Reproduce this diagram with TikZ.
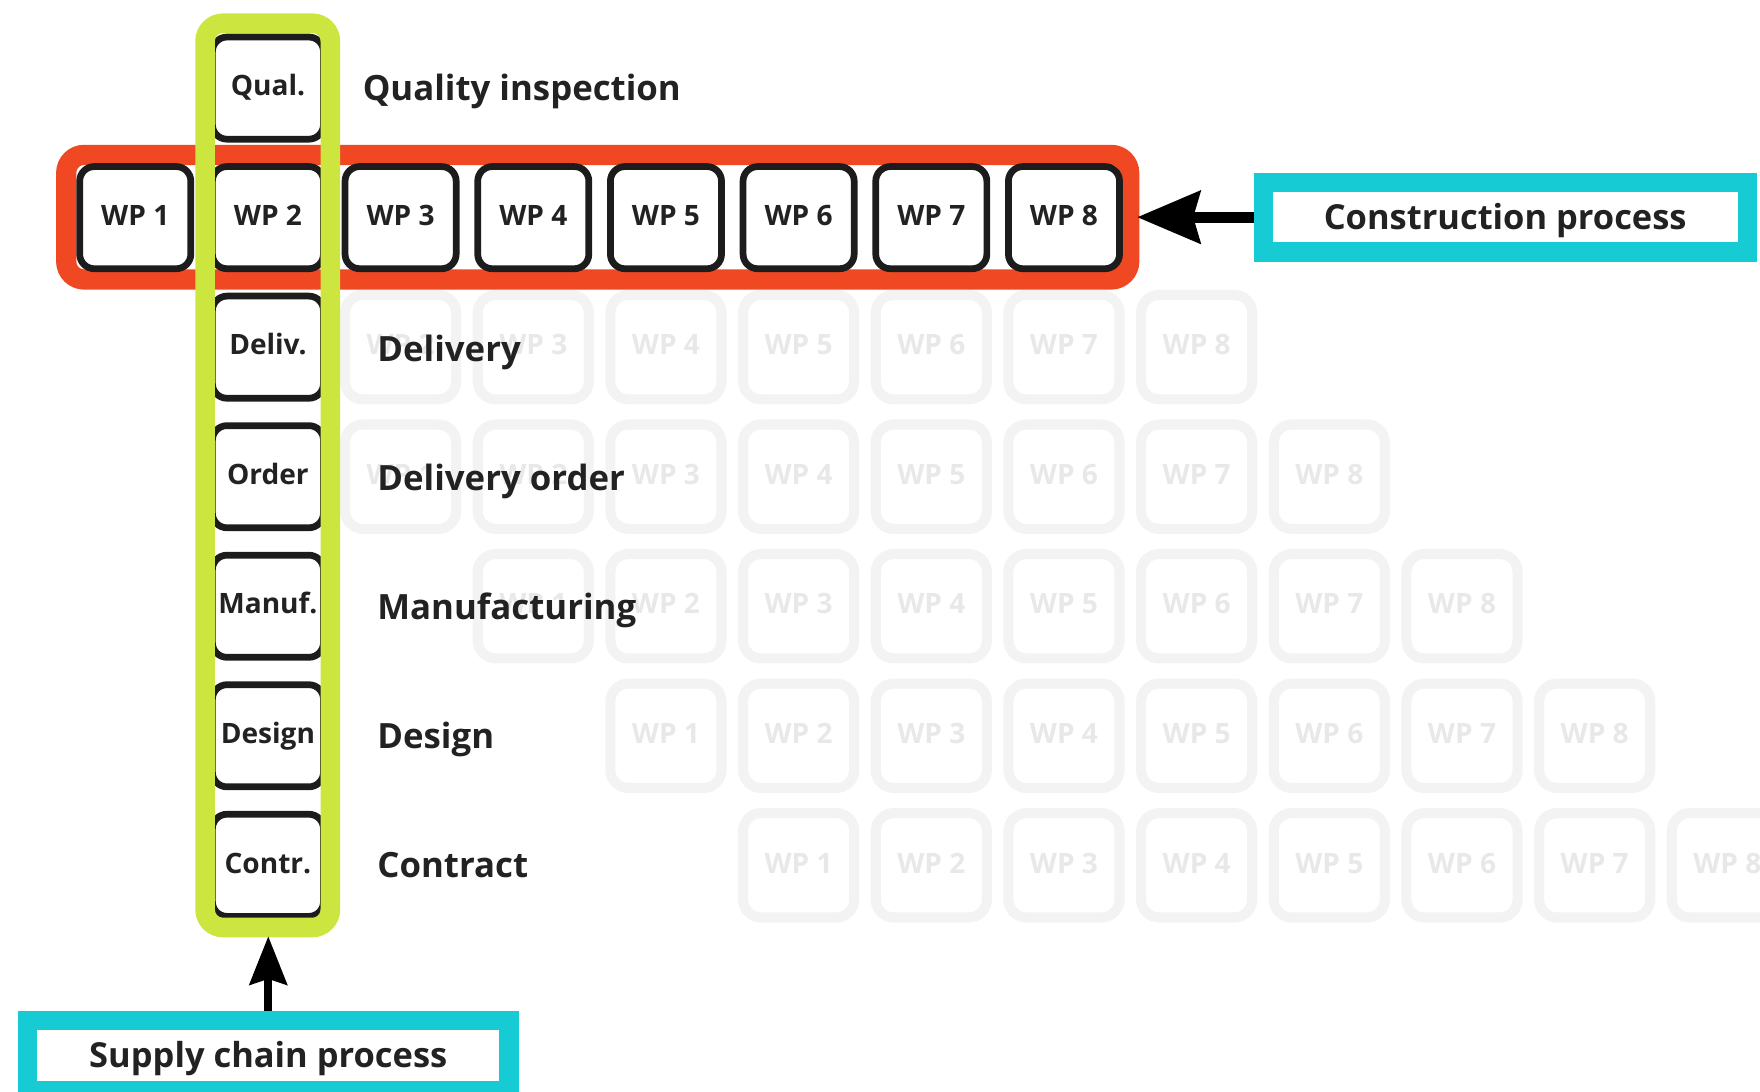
\documentclass[tikz,border=0pt]{standalone}
\usepackage{fontspec}
\setmainfont{Open Sans}
\usetikzlibrary{arrows.meta}
\definecolor{redband}{RGB}{239,72,35}
\definecolor{limeband}{RGB}{205,230,63}
\definecolor{cyanband}{RGB}{22,203,211}
\definecolor{boxblack}{RGB}{28,28,28}
\definecolor{fadeline}{RGB}{243,243,243}
\definecolor{fadetext}{RGB}{232,232,232}
\definecolor{txt}{RGB}{34,34,34}
\tikzset{
  wpbox/.style={draw=boxblack, line width=6pt, rounded corners=13pt, fill=white,
    minimum width=99pt, minimum height=91pt, inner sep=0pt, text=txt,
    font=\bfseries\fontsize{25}{25}\selectfont, text height=17.8pt, text depth=4pt},
  fadebox/.style={draw=fadeline, line width=9pt, rounded corners=16pt,
    minimum width=99pt, minimum height=93pt, inner sep=0pt, text=fadetext,
    font=\bfseries\fontsize{25}{25}\selectfont, text height=17.8pt, text depth=4pt},
  rowlabel/.style={anchor=west, inner sep=0pt, text=txt,
    font=\bfseries\fontsize{31}{31}\selectfont, text height=22.1pt, text depth=0pt},
  procbox/.style={draw=cyanband, line width=17pt, fill=white, inner sep=0pt,
    minimum height=62pt, text=txt,
    font=\bfseries\fontsize{30.7}{30.7}\selectfont, text height=21.9pt, text depth=0pt},
  bigarrow/.style={line width=10pt, -{Stealth[length=56pt, width=46pt, inset=6pt]}},
  smallarrow/.style={line width=7.5pt, -{Stealth[length=43pt, width=33pt, inset=5pt]}},
}
\begin{document}
\begin{tikzpicture}[x=1pt,y=-1pt]
\useasboundingbox (0,0) rectangle (1568,972);
% faded work-package grid
\foreach \r/\ry in {1/309.3, 2/424.7, 3/540.1, 4/655.5, 5/770.9} {
  \foreach \j in {1,...,8} {
    \pgfmathtruncatemacro{\col}{\j+\r}
    \ifnum\col>2
      \pgfmathsetmacro{\cx}{120.5+118.2*(\col-1)}
      \node[fadebox] (f\r-\j) at (\cx,\ry) {WP \j};
    \fi
  }
}
% row labels
\node[rowlabel] (lq) at (323,78.5) {Quality inspection};
\node[rowlabel] (ld) at (336,311) {Delivery};
\node[rowlabel] (lo) at (336,426) {Delivery order};
\node[rowlabel] (lm) at (336,541) {Manufacturing};
\node[rowlabel] (lg) at (336,656) {Design};
\node[rowlabel] (lc) at (336,771) {Contract};
% construction process band
\node[draw=redband, line width=18pt, rounded corners=16pt, minimum width=947pt,
  minimum height=111pt, inner sep=0pt] (cons) at (532.5,193.5) {};
\foreach \k in {1,...,8} {
  \pgfmathsetmacro{\cx}{120.5+118.2*(\k-1)}
  \node[wpbox] (w\k) at (\cx,193.9) {WP \k};
}
% supply chain column
\node[wpbox] (cq) at (238.7,78.5) {Qual.};
\node[wpbox] (cd) at (238.7,309.3) {Deliv.};
\node[wpbox] (co) at (238.7,424.7) {Order};
\node[wpbox] (cm) at (238.7,540.1) {Manuf.};
\node[wpbox] (cg) at (238.7,655.5) {Design};
\node[wpbox] (cc) at (238.7,770.9) {Contr.};
\node[draw=limeband, line width=17.5pt, rounded corners=16pt, minimum width=111.6pt,
  minimum height=805.6pt, inner sep=0pt] (supp) at (238.5,423.5) {};
% process boxes
\node[procbox, minimum width=431pt] (cp) at (1341,193.5) {Construction process};
\node[procbox, minimum width=429pt] (sp) at (239,940.5) {Supply chain process};
% arrows
\draw[bigarrow, shorten >=-2pt] (cp.west) -- (cp.west -| cons.east);
\draw[smallarrow, shorten >=-1pt] (sp.north) -- (sp.north |- supp.south);
\end{tikzpicture}
\end{document}
